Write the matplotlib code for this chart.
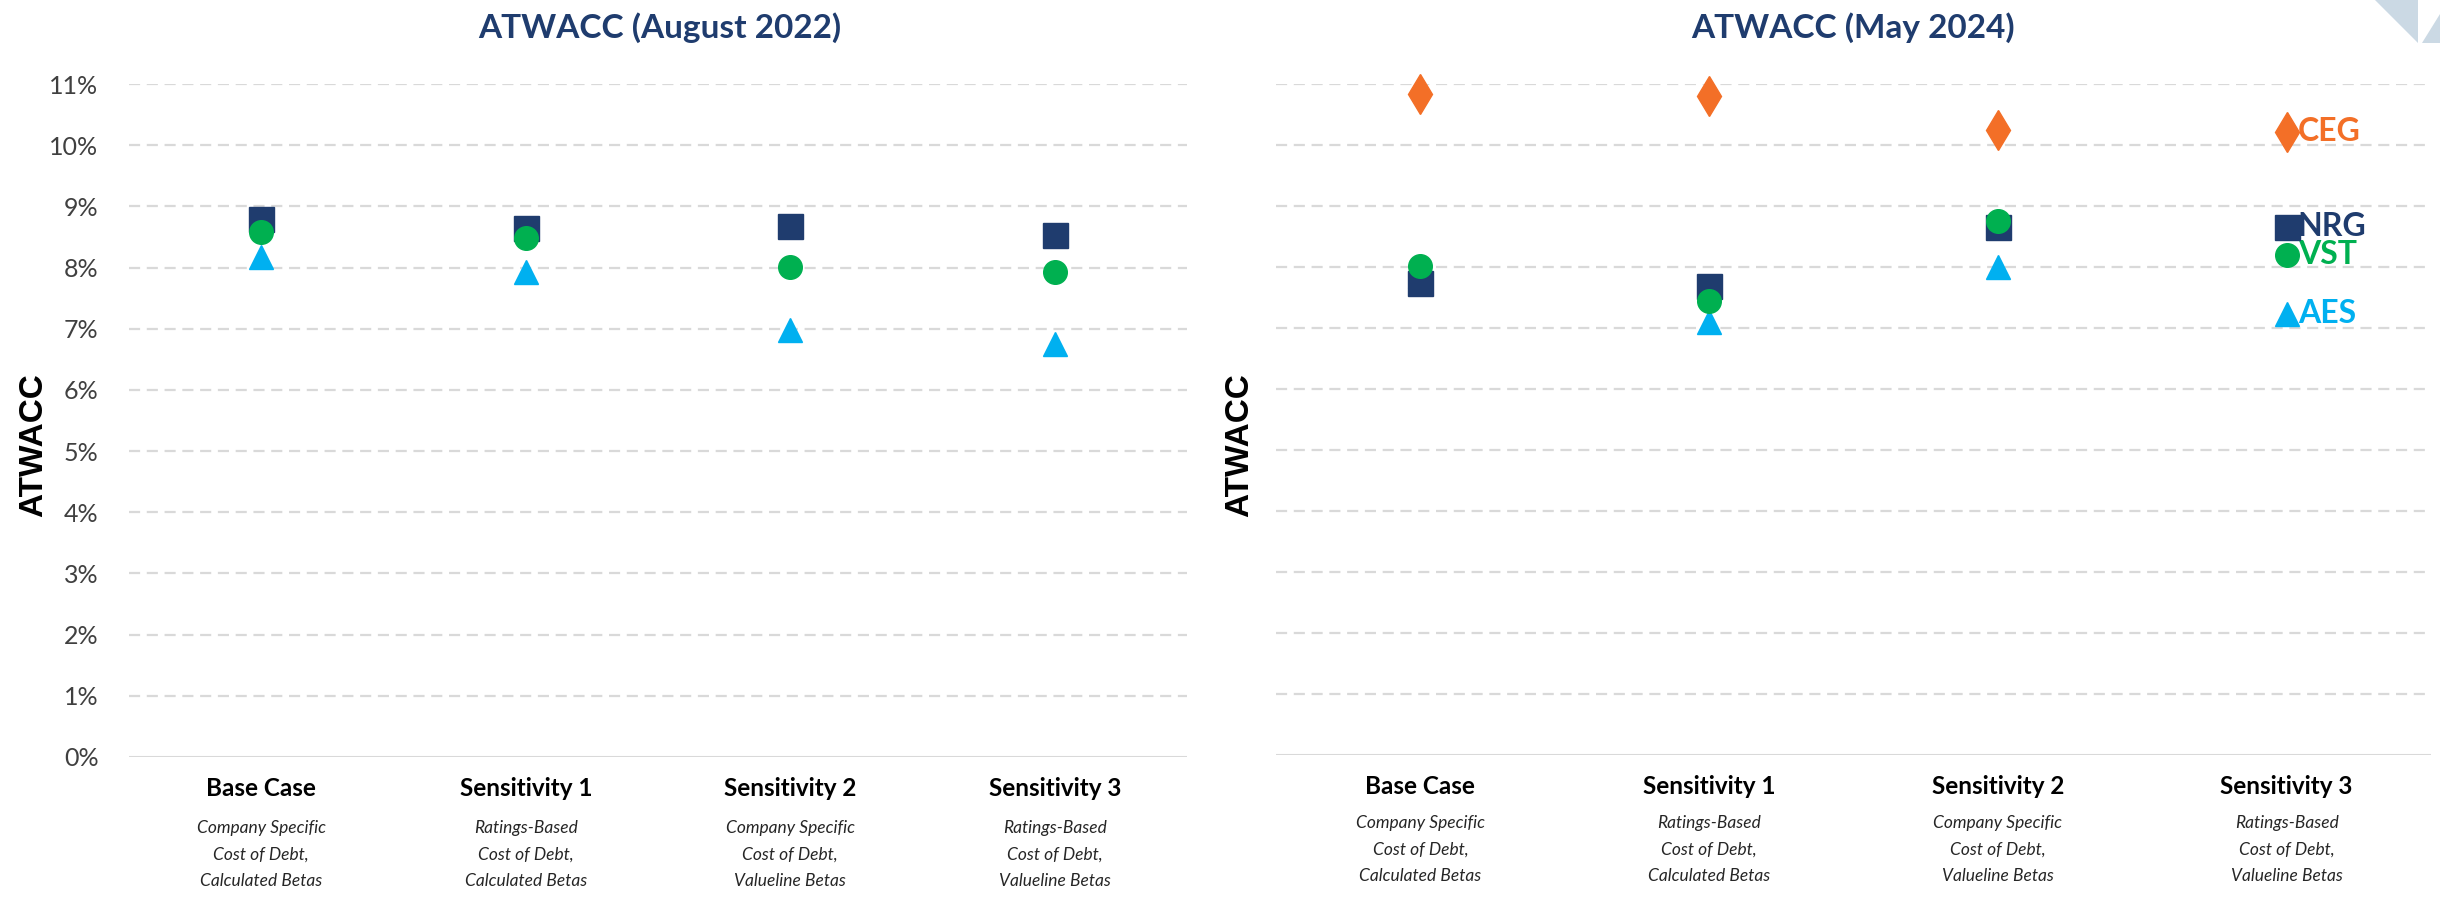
import matplotlib
matplotlib.use('Agg')
import matplotlib.pyplot as plt
from matplotlib.patches import Polygon
from matplotlib.ticker import FuncFormatter

categories = ['Base Case', 'Sensitivity 1', 'Sensitivity 2', 'Sensitivity 3']
descriptions = [
    ['Company Specific', 'Cost of Debt,', 'Calculated Betas'],
    ['Ratings-Based', 'Cost of Debt,', 'Calculated Betas'],
    ['Company Specific', 'Cost of Debt,', 'Valueline Betas'],
    ['Ratings-Based', 'Cost of Debt,', 'Valueline Betas'],
]

# ATWACC in percent
aug2022_nrg = [8.80, 8.65, 8.68, 8.54]
aug2022_vst = [8.58, 8.48, 8.01, 7.92]
aug2022_aes = [8.17, 7.92, 6.98, 6.75]

may2024_nrg = [7.74, 7.69, 8.66, 8.66]
may2024_vst = [8.02, 7.44, 8.76, 8.20]
may2024_aes = [7.85, 7.10, 8.00, 7.23]
may2024_ceg = [10.83, 10.80, 10.24, 10.22]

y_ticks = list(range(0, 12))

NAVY = '#1F3C6E'
GREEN = '#00B050'
LBLUE = '#00B0F0'
ORANGE = '#F36F27'
GRID = '#D9D9D9'

FONT = 'Lato'
plt.rcParams['font.family'] = [FONT, 'DejaVu Sans']

W, H = 2440, 897
fig = plt.figure(figsize=(W / 100, H / 100), dpi=100)

ax1 = fig.add_axes([129 / W, 1 - 757 / H, (1187 - 129) / W, (757 - 84) / H])
ax2 = fig.add_axes([1276 / W, 1 - 755 / H, (2431 - 1276) / W, (755 - 84) / H])

styles = {
    'AES': dict(marker='^', ms=17, color=LBLUE, z=3),
    'NRG': dict(marker='s', ms=18, color=NAVY, z=4),
    'VST': dict(marker='o', ms=17, color=GREEN, z=5),
    'CEG': dict(marker='d', ms=20, color=ORANGE, z=6),
}

x = list(range(len(categories)))


def setup(ax, bold_off, ital_offs, show_yticks):
    ax.set_xlim(-0.5, 3.5)
    ax.set_ylim(0, 11)
    for s in ax.spines.values():
        s.set_visible(False)
    for t in y_ticks[1:]:
        ax.axhline(t, color=GRID, lw=1.6, ls=(0, (5, 3)), zorder=1)
    ax.axhline(0, color=GRID, lw=2.2, zorder=1)
    ax.set_yticks(y_ticks)
    ax.tick_params(axis='y', length=0, pad=22, labelsize=18, labelcolor='#404040')
    ax.yaxis.set_major_formatter(FuncFormatter(lambda v, p: f'{int(v)}%'))
    if not show_yticks:
        ax.set_yticklabels([])
    ax.set_xticks([])
    for i, (cat, desc) in enumerate(zip(categories, descriptions)):
        ax.annotate(cat, xy=(i, 0), xycoords=('data', 'axes fraction'),
                    xytext=(0, -bold_off), textcoords='offset points',
                    ha='center', va='center', fontsize=17.5, fontweight='bold',
                    color='black', annotation_clip=False)
        for line, off in zip(desc, ital_offs):
            ax.annotate(line, xy=(i, 0), xycoords=('data', 'axes fraction'),
                        xytext=(0, -off), textcoords='offset points',
                        ha='center', va='center', fontsize=12.5, fontstyle='italic',
                        color='#262626', annotation_clip=False)


setup(ax1, 23, [51, 70, 89], True)
setup(ax2, 23, [49, 68, 87], False)


def plot_series(ax, name, values):
    st = styles[name]
    ax.plot(x, values, ls='none', marker=st['marker'], ms=st['ms'],
            color=st['color'], mec=st['color'], zorder=st['z'], clip_on=False)


plot_series(ax1, 'AES', aug2022_aes)
plot_series(ax1, 'NRG', aug2022_nrg)
plot_series(ax1, 'VST', aug2022_vst)

plot_series(ax2, 'AES', may2024_aes)
plot_series(ax2, 'NRG', may2024_nrg)
plot_series(ax2, 'VST', may2024_vst)
plot_series(ax2, 'CEG', may2024_ceg)

# end labels on right panel
for name, vals in [('CEG', may2024_ceg), ('NRG', may2024_nrg),
                   ('VST', may2024_vst), ('AES', may2024_aes)]:
    ax2.annotate(name, xy=(3, vals[-1]), xytext=(8, 0), textcoords='offset points',
                 ha='left', va='center', fontsize=23, fontweight='bold',
                 color=styles[name]['color'], annotation_clip=False)

# titles
fig.text(660 / W, 1 - 28 / H, 'ATWACC (August 2022)', ha='center', va='center',
         fontsize=24, fontweight='bold', color=NAVY)
fig.text(1853 / W, 1 - 28 / H, 'ATWACC (May 2024)', ha='center', va='center',
         fontsize=24, fontweight='bold', color=NAVY)

# y labels
for xp in (34, 1240):
    fig.text(xp / W, 1 - 445 / H, 'ATWACC', rotation=90, ha='center', va='center',
             fontsize=24, fontweight='bold', color='black',
             family=['Liberation Sans', 'DejaVu Sans'])

# decorative corner shape
fig.patches.append(Polygon([[2375 / W, 1], [2418 / W, 1], [2418 / W, 1 - 43 / H]],
                           closed=True, transform=fig.transFigure,
                           facecolor='#CBD9E4', edgecolor='none'))
fig.patches.append(Polygon([[2422 / W, 1 - 43 / H], [2440 / W, 1 - 14 / H], [2440 / W, 1 - 43 / H]],
                           closed=True, transform=fig.transFigure,
                           facecolor='#CBD9E4', edgecolor='none'))

fig.savefig('out.png', dpi=100, facecolor='white')
